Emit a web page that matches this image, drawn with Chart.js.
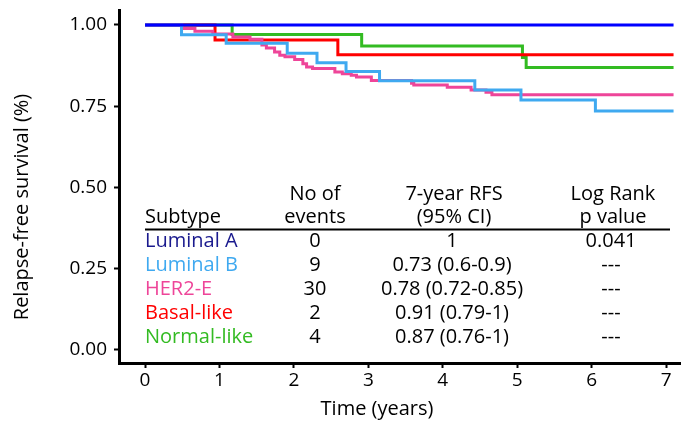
<!DOCTYPE html>
<html>
<head>
<meta charset="utf-8">
<script src="https://cdn.jsdelivr.net/npm/chart.js@4"></script>
<style>
  html, body { margin: 0; padding: 0; background: #fff; }
  #wrap { width: 681px; height: 421px; position: relative; }
</style>
</head>
<body>
<div id="wrap"><canvas id="km"></canvas></div>
<script>
// Kaplan-Meier steps (time in years, survival fraction)
const lumATime = [0, 7.1];
const lumASurv = [1, 1];

const lumBTime = [0, 0.49, 1.09, 1.91, 2.31, 2.70, 3.15, 4.43, 5.05, 6.05, 7.1];
const lumBSurv = [1, 0.970, 0.944, 0.913, 0.884, 0.857, 0.828, 0.800, 0.769, 0.735, 0.735];

const her2Time = [0, 0.50, 0.67, 0.91, 1.18, 1.41, 1.57, 1.63, 1.74, 1.81, 1.88, 2.01, 2.12, 2.17, 2.25,
                  2.55, 2.65, 2.77, 2.84, 3.04, 3.58, 3.61, 4.06, 4.38, 4.58, 4.66, 7.1];
const her2Surv = [1, 0.989, 0.981, 0.972, 0.963, 0.956, 0.938, 0.929, 0.917, 0.907, 0.902, 0.894, 0.881, 0.871, 0.866,
                  0.855, 0.850, 0.845, 0.840, 0.829, 0.821, 0.815, 0.808, 0.800, 0.793, 0.785, 0.785];

const basalTime = [0, 0.94, 2.59, 7.1];
const basalSurv = [1, 0.954, 0.908, 0.908];

const normalTime = [0, 1.17, 2.91, 5.07, 5.12, 7.1];
const normalSurv = [1, 0.971, 0.935, 0.900, 0.869, 0.869];

const xTicks = [0, 1, 2, 3, 4, 5, 6, 7];
const yTicks = [0, 0.25, 0.5, 0.75, 1];

// summary table
const subtypes = ['Luminal A', 'Luminal B', 'HER2-E', 'Basal-like', 'Normal-like'];
const nEvents = ['0', '9', '30', '2', '4'];
const rfs7 = ['1', '0.73 (0.6-0.9)', '0.78 (0.72-0.85)', '0.91 (0.79-1)', '0.87 (0.76-1)'];
const pValues = ['0.041', '---', '---', '---', '---'];

const lineColors = ['#0000ff', '#3fa9f0', '#ee4599', '#ff0000', '#33bb22'];
const textColors = ['#1a1a8e', '#3fa9f0', '#ee4599', '#ff0000', '#33bb22'];

const FONT = "'Open Sans', 'DejaVu Sans', sans-serif";

function toPoints(ts, ss) {
    return ts.map((t, i) => ({ x: t, y: ss[i] }));
}

const series = [
    toPoints(lumATime, lumASurv),
    toPoints(lumBTime, lumBSurv),
    toPoints(her2Time, her2Surv),
    toPoints(basalTime, basalSurv),
    toPoints(normalTime, normalSurv)
];

// table + axis titles
const tablePlugin = {
    id: 'kmTable',
    afterDraw(chart) {
        const c = chart.ctx;
        c.save();
        c.fillStyle = '#000';
        c.font = '20px ' + FONT;
        c.textBaseline = 'alphabetic';

        // header
        c.textAlign = 'left';
        c.fillText('Subtype', 145, 223);
        c.textAlign = 'center';
        c.fillText('No of', 315, 200);
        c.fillText('events', 315, 223);
        c.fillText('7-year RFS', 454, 200);
        c.fillText('(95% CI)', 454, 223);
        c.fillText('Log Rank', 613, 200);
        c.fillText('p value', 613, 223);

        c.strokeStyle = '#000';
        c.lineWidth = 2;
        c.beginPath();
        c.moveTo(145, 229.5);
        c.lineTo(670, 229.5);
        c.stroke();

        subtypes.forEach((s, i) => {
            const y = 247 + i * 24;
            c.textAlign = 'left';
            c.fillStyle = textColors[i];
            c.fillText(s, 145, y);
            c.fillStyle = '#000';
            c.textAlign = 'center';
            c.fillText(nEvents[i], 315, y);
            c.fillText(rfs7[i], 452, y);
            c.fillText(pValues[i], 611, y);
        });

        // axis titles
        c.font = '20px ' + FONT;
        c.textAlign = 'center';
        c.textBaseline = 'middle';
        c.fillText('Time (years)', 377, 409);
        c.translate(22, 207);
        c.rotate(-Math.PI / 2);
        c.fillText('Relapse-free survival (%)', 0, 0);
        c.restore();
    }
};

new Chart(document.getElementById('km'), {
    type: 'line',
    data: {
        datasets: series.map((pts, i) => ({
            label: subtypes[i],
            data: pts,
            borderColor: lineColors[i],
            borderWidth: 3,
            stepped: 'before',
            pointRadius: 0,
            fill: false
        }))
    },
    options: {
        responsive: true,
        maintainAspectRatio: false,
        animation: false,
        layout: { padding: { top: 10, right: 0, left: 0, bottom: 0 } },
        plugins: {
            legend: { display: false },
            tooltip: { enabled: false }
        },
        scales: {
            x: {
                type: 'linear',
                min: -0.35,
                max: 7.2,
                afterBuildTicks: s => { s.ticks = xTicks.map(v => ({ value: v })); },
                afterFit: s => { s.height = 58; s.paddingLeft = 0; s.paddingRight = 0; },
                border: { display: true, color: '#000', width: 3 },
                grid: { drawOnChartArea: false, drawTicks: true, tickLength: 5, tickColor: '#000', tickWidth: 2 },
                ticks: { color: '#000', font: { family: FONT, size: 19 }, padding: 1, maxRotation: 0 }
            },
            y: {
                type: 'linear',
                min: -0.04,
                max: 1.046,
                afterBuildTicks: s => { s.ticks = yTicks.map(v => ({ value: v })); },
                afterFit: s => { s.width = 119; s.paddingTop = 0; s.paddingBottom = 0; },
                border: { display: true, color: '#000', width: 3 },
                grid: { drawOnChartArea: false, drawTicks: true, tickLength: 5, tickColor: '#000', tickWidth: 2 },
                ticks: {
                    color: '#000',
                    font: { family: FONT, size: 19 },
                    padding: 7,
                    callback: v => v.toFixed(2)
                }
            }
        }
    },
    plugins: [tablePlugin]
});
</script>
</body>
</html>
